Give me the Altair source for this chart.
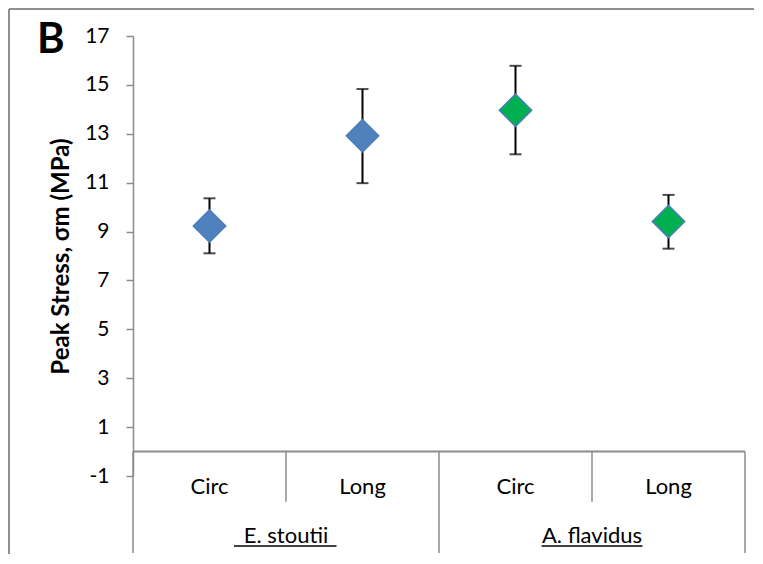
import altair as alt
import pandas as pd

# ---- data ----
species = ["E. stoutii", "E. stoutii", "A. flavidus", "A. flavidus"]
orientation = ["Circ", "Long", "Circ", "Long"]
peak_stress = [9.23, 12.92, 13.96, 9.41]
err_low = [8.11, 10.98, 12.16, 8.30]
err_high = [10.36, 14.83, 15.78, 10.50]
fill_colors = ["#4F81BD", "#4F81BD", "#00B050", "#00B050"]

y_ticks = [-1, 1, 3, 5, 7, 9, 11, 13, 15, 17]

group_names = [" E. stoutii", "A. flavidus"]
panel_label = ["B"]

FONT = "Lato"
GRAY = "#8C8C8C"

pos = [i + 0.5 for i in range(len(orientation))]
df = pd.DataFrame({
    "pos": pos, "species": species, "orientation": orientation,
    "value": peak_stress, "lo": err_low, "hi": err_high, "fill": fill_colors,
})

# two-level category box below the axis
inner_sep = pd.DataFrame({"x": [1, 3], "y": [0, 0], "y2": [-2.05, -2.05]})
outer_sep = pd.DataFrame({"x": [0, 2, 4], "y": [0, 0, 0], "y2": [-4.15, -4.15, -4.15]})
base_line = pd.DataFrame({"x": [0], "x2": [4], "y": [0]})
cat_labels = pd.DataFrame({"x": pos, "y": [-1.45] * 4, "t": orientation})
grp_labels = pd.DataFrame({"x": [1, 3], "y": [-3.45, -3.45], "t": group_names})
underline = pd.DataFrame({"x": [0.66, 2.67], "x2": [1.33, 3.33], "y": [-3.86, -3.86]})
label_df = pd.DataFrame({"t": panel_label})

xs = alt.Scale(domain=[0, 4], nice=False, zero=False)
ys = alt.Scale(domain=[-1, 17], nice=False, zero=False)

X = lambda f: alt.X(f, type="quantitative", scale=xs, axis=None)

yaxis = alt.Axis(
    values=y_ticks, grid=False, domainColor=GRAY, domainWidth=1.5,
    tickColor=GRAY, tickSize=7, tickWidth=1.5, labelFont=FONT, labelFontSize=21,
    labelColor="#000000", labelPadding=17, labelExpr="'' + datum.value",
    title="Peak Stress, σm (MPa)", titleFont=FONT, titleFontSize=24,
    titleFontWeight="bold", titleColor="#000000", titlePadding=11,
)

errbars = alt.Chart(df).mark_rule(color="black", strokeWidth=2).encode(
    x=X("pos"), y=alt.Y("lo:Q", scale=ys, axis=yaxis), y2="hi:Q"
)
caps_lo = alt.Chart(df).mark_tick(color="black", orient="horizontal", size=12, thickness=2).encode(
    x=X("pos"), y=alt.Y("lo:Q", scale=ys)
)
caps_hi = alt.Chart(df).mark_tick(color="black", orient="horizontal", size=12, thickness=2).encode(
    x=X("pos"), y=alt.Y("hi:Q", scale=ys)
)
points = alt.Chart(df).mark_point(
    shape="diamond", filled=True, size=1050, opacity=1, stroke="#4A7EBB", strokeWidth=1.5
).encode(
    x=X("pos"), y=alt.Y("value:Q", scale=ys),
    fill=alt.Fill("fill:N", scale=None),
)

rule_style = dict(color=GRAY, strokeWidth=1.5, clip=False)
hline = alt.Chart(base_line).mark_rule(color=GRAY, strokeWidth=2, clip=False).encode(
    x=X("x"), x2="x2:Q", y=alt.Y("y:Q", scale=ys)
)
vin = alt.Chart(inner_sep).mark_rule(**rule_style).encode(
    x=X("x"), y=alt.Y("y:Q", scale=ys), y2="y2:Q"
)
vout = alt.Chart(outer_sep).mark_rule(**rule_style).encode(
    x=X("x"), y=alt.Y("y:Q", scale=ys), y2="y2:Q"
)
ctext = alt.Chart(cat_labels).mark_text(
    font=FONT, fontSize=22, color="black", baseline="middle", clip=False
).encode(x=X("x"), y=alt.Y("y:Q", scale=ys), text="t:N")
gtext = alt.Chart(grp_labels).mark_text(
    font=FONT, fontSize=22, color="black", baseline="middle", clip=False
).encode(x=X("x"), y=alt.Y("y:Q", scale=ys), text="t:N")
uline = alt.Chart(underline).mark_rule(color="black", strokeWidth=1.5, clip=False).encode(
    x=X("x"), x2="x2:Q", y=alt.Y("y:Q", scale=ys)
)

# panel label "B"
btext = alt.Chart(label_df).mark_text(
    font=FONT, fontSize=42, fontWeight="bold", color="black",
    align="left", baseline="alphabetic",
).encode(x=alt.value(-96), y=alt.value(17), text="t:N")

# outer chart frame (top and left edges)
frame_top = alt.Chart(base_line).mark_rule(color="#909090", strokeWidth=2).encode(
    x=alt.value(-124), x2=alt.value(621), y=alt.value(-27)
)
frame_left = alt.Chart(base_line).mark_rule(color="#909090", strokeWidth=2).encode(
    x=alt.value(-124), y=alt.value(-27), y2=alt.value(518)
)

chart = alt.layer(
    frame_top, frame_left, hline, vin, vout, ctext, gtext, uline, btext,
    errbars, caps_lo, caps_hi, points,
).properties(
    width=612, height=440,
    padding=0,
).configure_view(stroke=None)

chart.save("out.html", embed_options={"renderer": "svg", "actions": False})
